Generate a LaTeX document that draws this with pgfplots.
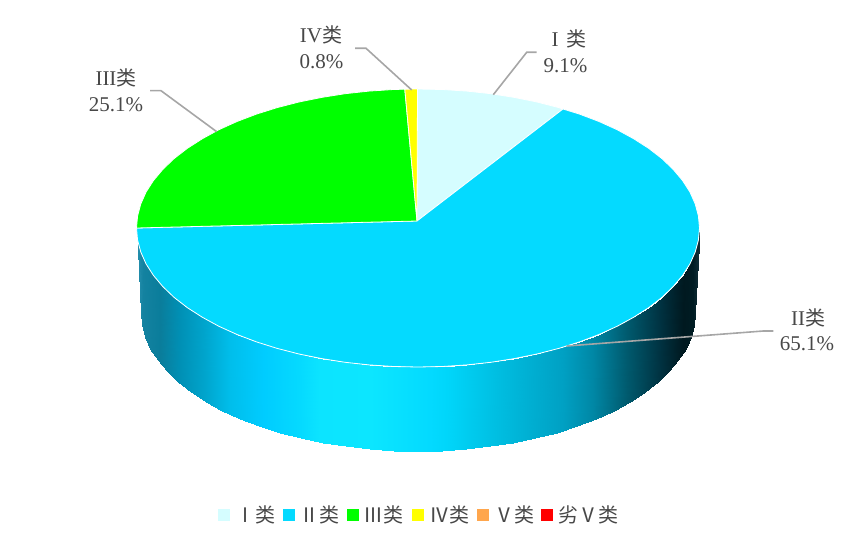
\documentclass[border=0pt]{standalone}
\usepackage{fontspec}
\usepackage{pgfplots}
\pgfplotsset{compat=1.18}
\usepgfplotslibrary{patchplots}
\setmainfont{Liberation Serif}
\newfontfamily\cjk{Noto Sans CJK SC}
\definecolor{cI}{HTML}{D5FDFF}
\definecolor{cII}{HTML}{04DAFF}
\definecolor{cIII}{HTML}{00FF00}
\definecolor{cIV}{HTML}{FFFF00}
\definecolor{cV}{HTML}{FFA64D}
\definecolor{cVI}{HTML}{FF0000}
\definecolor{lead}{HTML}{A6A6A6}
\definecolor{lab}{HTML}{484848}
\pgfplotsset{legsq/.style={legend image code/.code={\fill[##1] (0pt,-5.5pt) rectangle (11pt,5.5pt);}}}
\tikzset{
  cat/.style={text=lab, inner sep=0pt, font=\fontsize{21pt}{21pt}\selectfont},
  pct/.style={text=lab, inner sep=0pt, font=\fontsize{21pt}{21pt}\selectfont},
}
\begin{document}
\begin{tikzpicture}
\path[use as bounding box] (0,0) rectangle (842pt,540pt);
\begin{axis}[
  anchor=south west, at={(0,0)},
  scale only axis, width=842pt, height=540pt,
  xmin=0, xmax=842, ymin=0, ymax=540, y dir=reverse,
  hide axis, clip=false,
  colormap={wall}{
    rgb255(136pt)=(40,145,175) rgb255(143pt)=(20,130,160) rgb255(160pt)=(10,125,155)
    rgb255(180pt)=(0,144,181) rgb255(205pt)=(0,165,205) rgb255(230pt)=(0,190,235)
    rgb255(263pt)=(0,204,255) rgb255(300pt)=(5,218,255) rgb255(320pt)=(12,228,255)
    rgb255(370pt)=(12,230,255) rgb255(430pt)=(3,218,255) rgb255(447pt)=(0,214,250)
    rgb255(497pt)=(0,190,225) rgb255(563pt)=(0,160,195) rgb255(593pt)=(0,135,165)
    rgb255(627pt)=(0,90,110) rgb255(660pt)=(0,50,65) rgb255(683pt)=(0,25,32)
    rgb255(693pt)=(0,28,35) rgb255(700pt)=(20,50,60)
  },
  point meta min=136, point meta max=700,
  legend columns=6,
  legend cell align=left,
  legend style={draw=none, fill=none, at={(axis cs:218,515)}, anchor=west,
    font=\cjk\fontsize{20pt}{20pt}\selectfont, text=lab,
    inner sep=0pt, column sep=0pt},
]
% side wall: upper edge then lower edge
\addplot[surf, shader=interp, mesh/rows=2, point meta=x, forget plot] coordinates {
(699.5,228) (698.4,240.1) (695.2,252.1) (689.9,264) (682.5,275.5) (673.1,286.7) (661.8,297.5)
(648.6,307.7) (633.6,317.3) (617.1,326.3) (599,334.5) (579.5,341.9) (558.8,348.4) (537,354)
(514.3,358.6) (490.9,362.3) (466.9,364.9) (442.5,366.5) (418,367) (393.5,366.5) (369.1,364.9)
(345.1,362.3) (321.7,358.6) (299,354) (277.2,348.4) (256.5,341.9) (237,334.5) (218.9,326.3)
(202.4,317.3) (187.4,307.7) (174.2,297.5) (162.9,286.7) (153.5,275.5) (146.1,264) (140.8,252.1)
(137.6,240.1) (136.5,228)

(695,313) (694,325) (690.8,337) (685.6,348.7) (678.3,360.2) (669,371.3) (657.9,382)
(644.9,392.2) (630.2,401.7) (613.9,410.6) (596.1,418.7) (576.9,426) (556.5,432.5) (535.1,438.1)
(512.7,442.7) (489.7,446.3) (466.1,448.9) (442.2,450.5) (418,451) (393.8,450.5) (369.9,448.9)
(346.3,446.3) (323.3,442.7) (300.9,438.1) (279.5,432.5) (259.1,426) (239.9,418.7) (222.1,410.6)
(205.8,401.7) (191.1,392.2) (178.1,382) (167,371.3) (157.7,360.2) (150.4,348.7) (145.2,337)
(142,325) (141,313)
};
% top face, I 9.1
\addplot[fill=cI, draw=white, line width=0.8pt, forget plot] coordinates {
(417,221) (417.5,89) (442.5,89.5) (466.9,91.1) (490.9,93.7) (514.3,97.4) (537,102) (558.8,107.6) (563,109) (417,221)};
% II 65.1
\addplot[fill=cII, draw=white, line width=0.8pt, forget plot] coordinates {
(417,221) (563,109) (579.5,114.1) (599,121.5) (617.1,129.7) (633.6,138.7) (648.6,148.3) (661.8,158.5)
(673.1,169.3) (682.5,180.5) (689.9,192) (695.2,203.9) (698.4,215.9) (699.5,228) (698.4,240.1)
(695.2,252.1) (689.9,264) (682.5,275.5) (673.1,286.7) (661.8,297.5) (648.6,307.7) (633.6,317.3)
(617.1,326.3) (599,334.5) (579.5,341.9) (558.8,348.4) (537,354) (514.3,358.6) (490.9,362.3)
(466.9,364.9) (442.5,366.5) (418,367) (393.5,366.5) (369.1,364.9) (345.1,362.3) (321.7,358.6)
(299,354) (277.2,348.4) (256.5,341.9) (237,334.5) (218.9,326.3) (202.4,317.3) (187.4,307.7)
(174.2,297.5) (162.9,286.7) (153.5,275.5) (146.1,264) (140.8,252.1) (137.6,240.1) (136.5,228) (417,221)};
% III 25.1
\addplot[fill=cIII, draw=white, line width=0.8pt, forget plot] coordinates {
(417,221) (136.5,228) (137.6,215.9) (140.8,203.9) (146.1,192) (153.5,180.5) (162.9,169.3) (174.2,158.5)
(187.4,148.3) (202.4,138.7) (218.9,129.7) (237,121.5) (256.5,114.1) (277.2,107.6) (299,102)
(321.7,97.4) (345.1,93.7) (369.1,91.1) (393.5,89.5) (404.8,89.2) (417,221)};
% IV 0.8
\addplot[fill=cIV, draw=white, line width=0.8pt, forget plot] coordinates {
(417,221) (404.8,89.2) (417.5,89) (417,221)};
% leader lines
\addplot[lead, line width=1.6pt, forget plot] coordinates {(493.3,94.7) (526.7,52.3) (536.7,52.3)};
\addplot[lead, line width=1.6pt, forget plot] coordinates {(411.7,90) (366,48.3) (355,48.3)};
\addplot[lead, line width=1.6pt, forget plot] coordinates {(216.7,131.7) (161,90.7) (150,90.7)};
\addplot[lead, line width=1.6pt, forget plot] coordinates {(566.7,346) (763.3,331) (773.3,331)};
% labels
\node[cat] at (axis cs:569,39) {I\,{\cjk\fontsize{20pt}{20pt}\selectfont\ 类}};
\node[pct] at (axis cs:565.5,66) {9.1\%};
\node[cat] at (axis cs:321,35) {IV{\cjk\fontsize{20pt}{20pt}\selectfont 类}};
\node[pct] at (axis cs:321.5,62) {0.8\%};
\node[cat] at (axis cs:116,78) {III{\cjk\fontsize{20pt}{20pt}\selectfont 类}};
\node[pct] at (axis cs:116,105) {25.1\%};
\node[cat] at (axis cs:808,318) {II{\cjk\fontsize{20pt}{20pt}\selectfont 类}};
\node[pct] at (axis cs:807,344) {65.1\%};
% legend
\addlegendimage{legsq, cI}\addlegendentry{\makebox[49.2pt][l]{\hspace{4pt}Ⅰ类}}
\addlegendimage{legsq, cII}\addlegendentry{\makebox[49.2pt][l]{\hspace{3pt}Ⅱ类}}
\addlegendimage{legsq, cIII}\addlegendentry{\makebox[49.2pt][l]{\hspace{3pt}Ⅲ类}}
\addlegendimage{legsq, cIV}\addlegendentry{\makebox[49.2pt][l]{\hspace{4pt}Ⅳ类}}
\addlegendimage{legsq, cV}\addlegendentry{\makebox[49.2pt][l]{\hspace{4pt}Ⅴ类}}
\addlegendimage{legsq, cVI}\addlegendentry{\makebox[66pt][l]{\hspace{4pt}劣Ⅴ类}}
\end{axis}
\end{tikzpicture}
\end{document}
